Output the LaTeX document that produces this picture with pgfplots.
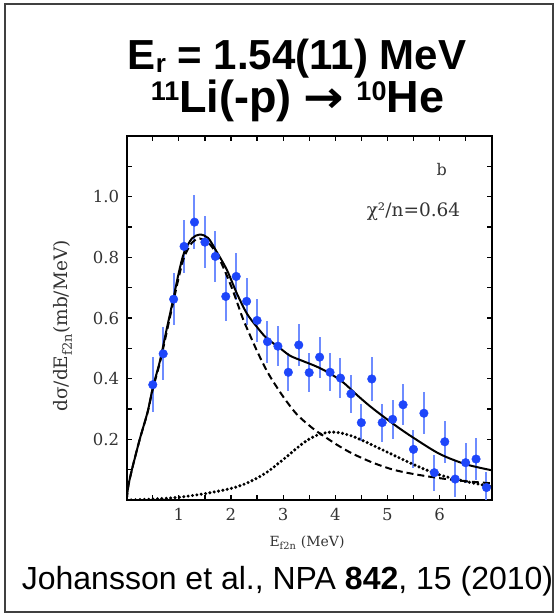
\documentclass[border=0pt]{standalone}
\usepackage{pgfplots}
\pgfplotsset{compat=1.18}
\usepackage{pgfplotstable}
\usepackage{fontspec}
\newfontfamily\arial{Liberation Sans}
\newfontfamily\dvs{DejaVu Serif}
\newfontfamily\dvsans{DejaVu Sans}
\definecolor{ptc}{RGB}{30,70,250}
\definecolor{ebc}{RGB}{110,140,255}
\newcommand\sups[1]{\raisebox{12pt}{\fontsize{27}{27}\selectfont #1}}
\newcommand\subs[1]{\raisebox{-3pt}{\fontsize{26}{26}\selectfont #1}}

\pgfplotstableread{
x y e
0.5 0.380 0.090
0.7 0.482 0.088
0.9 0.662 0.085
1.1 0.836 0.088
1.3 0.916 0.088
1.5 0.850 0.086
1.7 0.803 0.083
1.9 0.671 0.080
2.1 0.737 0.077
2.3 0.655 0.078
2.5 0.592 0.072
2.7 0.522 0.069
2.9 0.507 0.066
3.1 0.421 0.063
3.3 0.511 0.069
3.5 0.420 0.063
3.7 0.471 0.068
3.9 0.421 0.063
4.1 0.402 0.066
4.3 0.350 0.063
4.5 0.255 0.060
4.7 0.399 0.072
4.9 0.255 0.063
5.1 0.266 0.064
5.3 0.314 0.068
5.5 0.167 0.063
5.7 0.286 0.070
5.9 0.090 0.059
6.1 0.192 0.070
6.3 0.069 0.060
6.5 0.123 0.066
6.7 0.135 0.069
6.9 0.041 0.050
}\datatab

\begin{document}
\begin{tikzpicture}
\path[use as bounding box] (0pt,0pt) rectangle (558pt,615pt);
\draw[line width=2pt, black!75] (5pt,3pt) rectangle (553pt,611pt);

\node[anchor=base] at (297pt,545pt) {\arial\fontsize{42}{44}\selectfont\bfseries E\subs{r} = 1.54(11) MeV};
\node[anchor=base] at (297.5pt,502pt) {\arial\fontsize{45}{46}\selectfont\bfseries \sups{11}Li(-p)\hspace{12pt}{\dvsans\bfseries\fontsize{44}{44}\selectfont\scalebox{1.1}[1]{→}}\hspace{12pt}\sups{10}He};
\node[anchor=base] at (287.5pt,25pt) {\arial\fontsize{32}{34}\selectfont Johansson et al., NPA \textbf{842}, 15 (2010)};

\begin{axis}[
  at={(126.7pt,115pt)}, anchor=south west,
  width=365pt, height=364pt, scale only axis,
  xmin=0, xmax=7, ymin=0, ymax=1.2,
  xtick={1,2,3,4,5,6}, minor xtick={0.5,1.5,2.5,3.5,4.5,5.5,6.5},
  ytick={0.2,0.4,0.6,0.8,1.0}, minor ytick={0.1,0.3,0.5,0.7,0.9,1.1},
  tick align=inside, major tick length=5pt, minor tick length=5pt,
  every tick/.style={line width=1.2pt, black},
  axis line style={line width=1.6pt},
  /pgf/number format/assume math mode=true,
  yticklabel style={/pgf/number format/fixed, /pgf/number format/fixed zerofill, /pgf/number format/precision=1, xshift=-4pt},
  xticklabel style={yshift=-5pt},
  ticklabel style={font=\dvs\fontsize{16.5}{18}\selectfont, text=black!80},
  xlabel={E\textsubscript{f2n} (MeV)},
  ylabel={dσ/dE\textsubscript{f2n}(mb/MeV)},
  xlabel style={font=\dvs\fontsize{14}{16}\selectfont, text=black!80, at={(axis description cs:0.494,-0.129)}, anchor=base},
  ylabel style={font=\dvs\fontsize{18.5}{20}\selectfont, text=black!80, at={(axis description cs:-0.175,0.478)}, anchor=center},
]
\addplot[only marks, mark=*, mark size=4.3pt, mark options={fill=ptc, draw=ptc},
  error bars/.cd, y dir=both, y explicit, error mark=none,
  error bar style={line width=2pt, ebc}]
  table[x=x, y=y, y error=e] {\datatab};

\addplot[black, line width=2pt, smooth] coordinates {
(0,0) (0.03,0.045) (0.1,0.10) (0.25,0.20) (0.4,0.29) (0.5,0.37) (0.64,0.46) (0.75,0.55) (0.89,0.66) (1.0,0.75) (1.1,0.815) (1.25,0.862) (1.4,0.875) (1.56,0.864) (1.72,0.82) (1.92,0.759) (2.11,0.682) (2.3,0.616) (2.49,0.572) (2.68,0.534) (2.9,0.506) (3.13,0.476) (3.38,0.458) (3.64,0.44) (3.89,0.418) (4.15,0.388) (4.41,0.347) (4.66,0.31) (4.9,0.278) (5.2,0.240) (5.5,0.205) (6.0,0.152) (6.5,0.118) (7.0,0.098)
};
\addplot[black, line width=2pt, smooth, dash pattern=on 7pt off 4pt] coordinates {
(0,0) (0.03,0.045) (0.1,0.10) (0.25,0.2) (0.4,0.288) (0.5,0.365) (0.64,0.455) (0.75,0.54) (0.89,0.65) (1.0,0.735) (1.1,0.80) (1.25,0.848) (1.4,0.862) (1.6,0.842) (1.79,0.79) (1.98,0.715) (2.1,0.66) (2.23,0.597) (2.36,0.545) (2.46,0.506) (2.6,0.455) (2.75,0.407) (3.0,0.341) (3.26,0.283) (3.57,0.236) (3.89,0.198) (4.09,0.176) (4.34,0.152) (4.72,0.123) (5.11,0.100) (5.49,0.086) (6.0,0.072) (6.5,0.062) (7.0,0.055)
};
\addplot[black, line width=3.4pt, smooth, line cap=round, dash pattern=on 0pt off 4.4pt] coordinates {
(0,0) (0.5,0.003) (1.0,0.009) (1.5,0.021) (2.0,0.038) (2.25,0.052) (2.43,0.066) (2.6,0.082) (2.75,0.099) (3.07,0.143) (3.38,0.187) (3.6,0.21) (3.8,0.221) (3.95,0.224) (4.1,0.221) (4.3,0.212) (4.5,0.198) (4.8,0.174) (5.24,0.138) (5.62,0.108) (6.0,0.083) (6.5,0.061) (7.0,0.044)
};

\node[font=\dvs\fontsize{16}{18}\selectfont, text=black!80] at (axis cs:6.04,1.089) {b};
\node[font=\dvs\fontsize{18.5}{20}\selectfont, text=black!80] at (axis cs:5.5,0.95) {χ²/n=0.64};
\end{axis}
\end{tikzpicture}
\end{document}
